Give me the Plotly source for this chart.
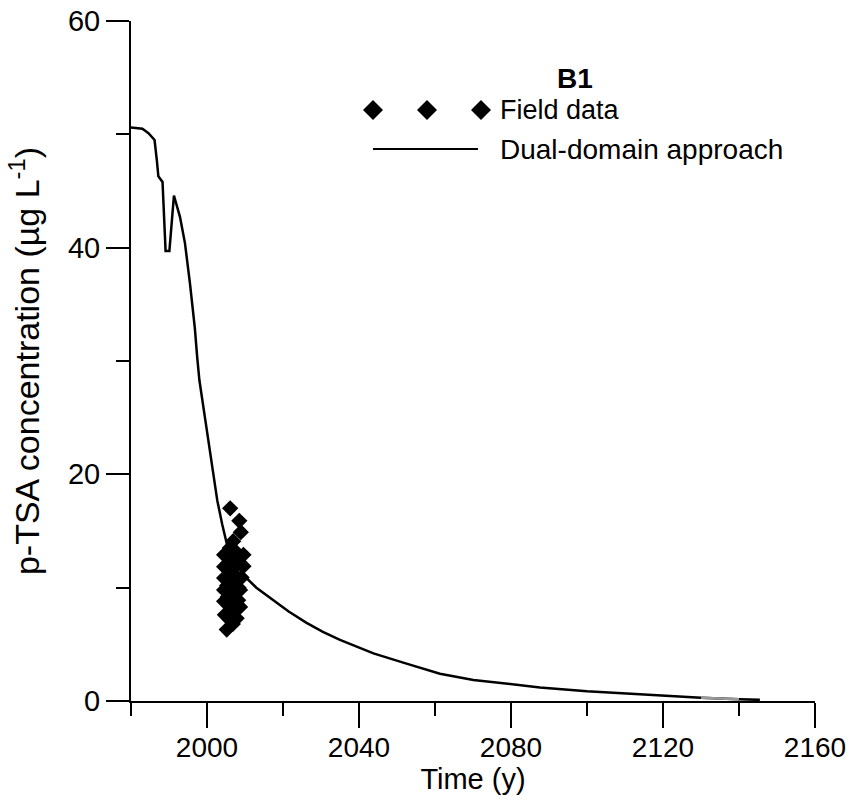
import plotly.graph_objects as go

# Dual-domain approach model curve
model_years = [1980, 1983, 1984.6, 1986.2, 1986.8, 1987.2, 1988.3, 1988.7, 1989.1, 1990.1,
               1991.3, 1992.9, 1994.2, 1995.5, 1996.8, 1997.4, 1998.0, 1999.6, 2001.0, 2002.7,
               2004.0, 2005.2, 2007.3, 2009.6, 2013.0, 2017.4, 2021.5, 2026.2, 2030.5, 2035.0,
               2043.8, 2052.5, 2061.3, 2070.1, 2078.9, 2087.6, 2100.0, 2112.0, 2122.0, 2130.0,
               2140.0, 2145.5]
model_conc = [50.6, 50.5, 50.1, 49.5, 47.7, 46.3, 45.8, 41.9, 39.7, 39.7,
              44.6, 42.7, 40.4, 36.9, 32.9, 30.4, 28.3, 24.7, 21.5, 17.7,
              15.6, 13.9, 12.4, 11.1, 10.0, 8.9, 7.9, 6.9, 6.1, 5.4,
              4.2, 3.3, 2.4, 1.85, 1.5, 1.2, 0.85, 0.6, 0.4, 0.28,
              0.15, 0.1]

# Field data
field_years = [2006.1, 2008.5, 2008.9, 2006.9, 2004.5, 2009.6, 2009.6, 2004.5, 2004.5, 2009.1,
               2008.7, 2004.5, 2008.2, 2004.5, 2008.7, 2004.7, 2007.8, 2005.2,
               2006.0, 2007.0, 2006.5, 2007.5, 2006.0, 2007.0, 2006.5, 2007.5, 2006.0, 2007.0,
               2006.0, 2006.8, 2005.5, 2008.0, 2005.5, 2007.5, 2005.3, 2008.3]
field_conc = [17.0, 15.9, 14.9, 14.1, 12.9, 12.9, 11.9, 11.85, 10.85, 10.9,
              9.8, 9.8, 8.9, 8.8, 8.3, 7.6, 7.3, 6.3,
              13.5, 12.5, 11.5, 11.0, 10.5, 10.0, 9.3, 9.0, 8.5, 8.0,
              7.2, 6.8, 12.0, 12.2, 9.2, 13.2, 10.2, 10.0]

x_major = [2000, 2040, 2080, 2120, 2160]
x_minor = [1980, 2020, 2060, 2100, 2140]
y_major = [0, 20, 40, 60]
y_minor = [10, 30, 50]

grey_range = (2130.0, 2140.0)

FONT = "Liberation Sans, Arial, sans-serif"

fig = go.Figure()
fig.add_trace(go.Scatter(x=model_years, y=model_conc, mode="lines",
                         line=dict(color="black", width=2.5), name="Dual-domain approach",
                         showlegend=False))
gx = [x for x in model_years if grey_range[0] <= x <= grey_range[1]]
gy = [y for x, y in zip(model_years, model_conc) if grey_range[0] <= x <= grey_range[1]]
fig.add_trace(go.Scatter(x=gx, y=gy, mode="lines", line=dict(color="#999999", width=2.5),
                         showlegend=False, hoverinfo="skip"))
fig.add_trace(go.Scatter(x=field_years, y=field_conc, mode="markers",
                         marker=dict(symbol="diamond", size=12.5, color="black", line=dict(width=0)),
                         name="Field data", showlegend=False, cliponaxis=False))

# Manual legend
L, T, W, H = 131, 21, 684, 680
def px2paper(px, py):
    return (px - L) / W, (T + H - py) / H

def diamond(cx, cy, r=10):
    xa, ya = px2paper(cx, cy)
    return dict(type="path", xref="paper", yref="paper", xsizemode="pixel", ysizemode="pixel",
                xanchor=xa, yanchor=ya,
                path=f"M{-r},0 L0,{r} L{r},0 L0,{-r} Z",
                fillcolor="black", line=dict(width=0))

shapes = [diamond(373, 110), diamond(427, 110), diamond(481, 110)]
x0, y0 = px2paper(373, 149)
x1, _ = px2paper(478, 149)
shapes.append(dict(type="line", xref="paper", yref="paper", x0=x0, x1=x1, y0=y0, y1=y0,
                   line=dict(color="black", width=2)))

annotations = []
bx, by = px2paper(575, 78)
annotations.append(dict(text="<b>B1</b>", x=bx, y=by, xref="paper", yref="paper",
                        xanchor="center", yanchor="middle", showarrow=False,
                        font=dict(family=FONT, size=28, color="black")))
fx, fy = px2paper(498, 110)
annotations.append(dict(text="Field data", x=fx, y=fy, xref="paper", yref="paper",
                        xanchor="left", yanchor="middle", showarrow=False,
                        font=dict(family=FONT, size=27, color="black")))
dx, dy = px2paper(498, 149)
annotations.append(dict(text="Dual-domain approach", x=dx, y=dy, xref="paper", yref="paper",
                        xanchor="left", yanchor="middle", showarrow=False,
                        font=dict(family=FONT, size=28, color="black")))

fig.update_layout(
    width=847, height=807,
    margin=dict(l=L, r=847 - L - W, t=T, b=807 - T - H, pad=0, autoexpand=False),
    plot_bgcolor="white", paper_bgcolor="white",
    font=dict(family=FONT, size=28, color="black"),
    shapes=shapes, annotations=annotations,
    showlegend=False,
)
fig.update_xaxes(
    range=[1980, 2160], showgrid=False, zeroline=False, automargin=False,
    showline=True, linecolor="black", linewidth=2,
    tickmode="array", tickvals=x_major,
    ticks="outside", ticklen=25, tickwidth=2, tickcolor="black",
    minor=dict(tickmode="array", tickvals=x_minor,
               ticks="outside", ticklen=13, tickwidth=2, tickcolor="black"),
    tickfont=dict(family=FONT, size=28),
    ticklabelstandoff=-5,
    title=dict(text="Time (y)", font=dict(family=FONT, size=29), standoff=0),
)
fig.update_yaxes(
    range=[0, 60], showgrid=False, zeroline=False, automargin=False,
    showline=True, linecolor="black", linewidth=2,
    tickmode="array", tickvals=y_major,
    ticks="outside", ticklen=23, tickwidth=2, tickcolor="black",
    minor=dict(tickmode="array", tickvals=y_minor,
               ticks="outside", ticklen=13, tickwidth=2, tickcolor="black"),
    tickfont=dict(family=FONT, size=29),
    title=dict(text="p-TSA concentration (µg L<sup>-1</sup>)", font=dict(family=FONT, size=34), standoff=18),
)

fig.write_html("out.html")
